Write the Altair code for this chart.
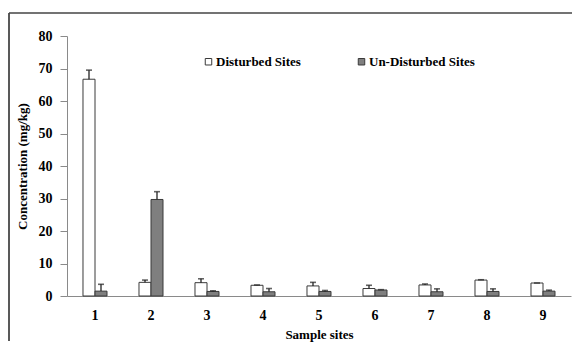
import altair as alt
import pandas as pd

sites = ["1", "2", "3", "4", "5", "6", "7", "8", "9"]
series_names = ["Disturbed Sites", "Un-Disturbed Sites"]
disturbed = [66.7, 4.2, 4.1, 3.3, 3.1, 2.3, 3.4, 4.9, 4.0]
disturbed_err = [2.8, 0.7, 1.2, 0.1, 1.1, 1.0, 0.3, 0.1, 0.0]
undisturbed = [1.5, 29.7, 1.4, 1.3, 1.4, 1.85, 1.3, 1.4, 1.5]
undisturbed_err = [2.1, 2.4, 0.2, 1.0, 0.3, 0.1, 0.9, 0.8, 0.3]

rows = []
for i, s in enumerate(sites):
    rows.append({"site": s, "series": series_names[0], "value": disturbed[i],
                 "upper": disturbed[i] + disturbed_err[i]})
    rows.append({"site": s, "series": series_names[1], "value": undisturbed[i],
                 "upper": undisturbed[i] + undisturbed_err[i]})
df = pd.DataFrame(rows)

FONT = "Liberation Serif"

x_axis = alt.Axis(title="Sample sites", labelAngle=0, ticks=False, tickSize=0,
                  labelPadding=12, titlePadding=6)
x_scale = alt.Scale(paddingInner=0.5714, paddingOuter=0.2857)
y_axis = alt.Axis(title="Concentration (mg/kg)", values=list(range(0, 81, 10)),
                  tickSize=7, labelPadding=8, titlePadding=9, grid=False,
                  labelOverlap=False)
y_scale = alt.Scale(domain=[0, 80], nice=False)
xoff = alt.XOffset("series:N", sort=series_names,
                   scale=alt.Scale(paddingInner=0, paddingOuter=0))

base = alt.Chart(df)

bars = base.mark_bar(stroke="#3a3a3a", strokeWidth=1).encode(
    x=alt.X("site:N", sort=sites, scale=x_scale, axis=x_axis),
    xOffset=xoff,
    y=alt.Y("value:Q", scale=y_scale, axis=y_axis),
    color=alt.Color("series:N", sort=series_names,
                    scale=alt.Scale(domain=series_names, range=["#ffffff", "#7f7f7f"]),
                    legend=alt.Legend(title=None, orient="none", direction="horizontal",
                                      legendX=135, legendY=19, columns=2,
                                      columnPadding=54, symbolType="square",
                                      symbolSize=42, symbolStrokeColor="#3a3a3a",
                                      symbolStrokeWidth=1, labelOffset=1,
                                      labelFont=FONT, labelFontSize=13,
                                      labelFontWeight="bold", labelColor="black",
                                      labelLimit=200)),
)

err_rule = base.mark_rule(color="#222222", strokeWidth=1.3).encode(
    x=alt.X("site:N", sort=sites, scale=x_scale, axis=x_axis),
    xOffset=xoff,
    y=alt.Y("upper:Q", scale=y_scale, axis=y_axis),
    y2="value:Q",
)

err_cap = base.mark_tick(color="#222222", thickness=1.6, size=6, orient="horizontal").encode(
    x=alt.X("site:N", sort=sites, scale=x_scale, axis=x_axis),
    xOffset=xoff,
    y=alt.Y("upper:Q", scale=y_scale, axis=y_axis),
)

frame_data = alt.Data(values=[{"k": 1}])
frame_left = alt.Chart(frame_data).mark_rule(color="#222222", strokeWidth=1.5).encode(
    x=alt.value(-58), y=alt.value(-23), y2=alt.value(305))
frame_top = alt.Chart(frame_data).mark_rule(color="#444444", strokeWidth=1.5).encode(
    x=alt.value(-58), x2=alt.value(505), y=alt.value(-23))

chart = alt.layer(bars, err_rule, err_cap, frame_left, frame_top).properties(
    width=504, height=260,
    padding={"left": 0, "top": 4, "right": 0, "bottom": 0},
).configure_view(stroke=None).configure_axis(
    labelFont=FONT, labelFontSize=14, labelFontWeight="bold", labelColor="black",
    titleFont=FONT, titleFontSize=13, titleFontWeight="bold", titleColor="black",
    domainColor="#8a8a8a", tickColor="#8a8a8a",
)

chart.save("out.html", embed_options={"renderer": "svg", "actions": False})
